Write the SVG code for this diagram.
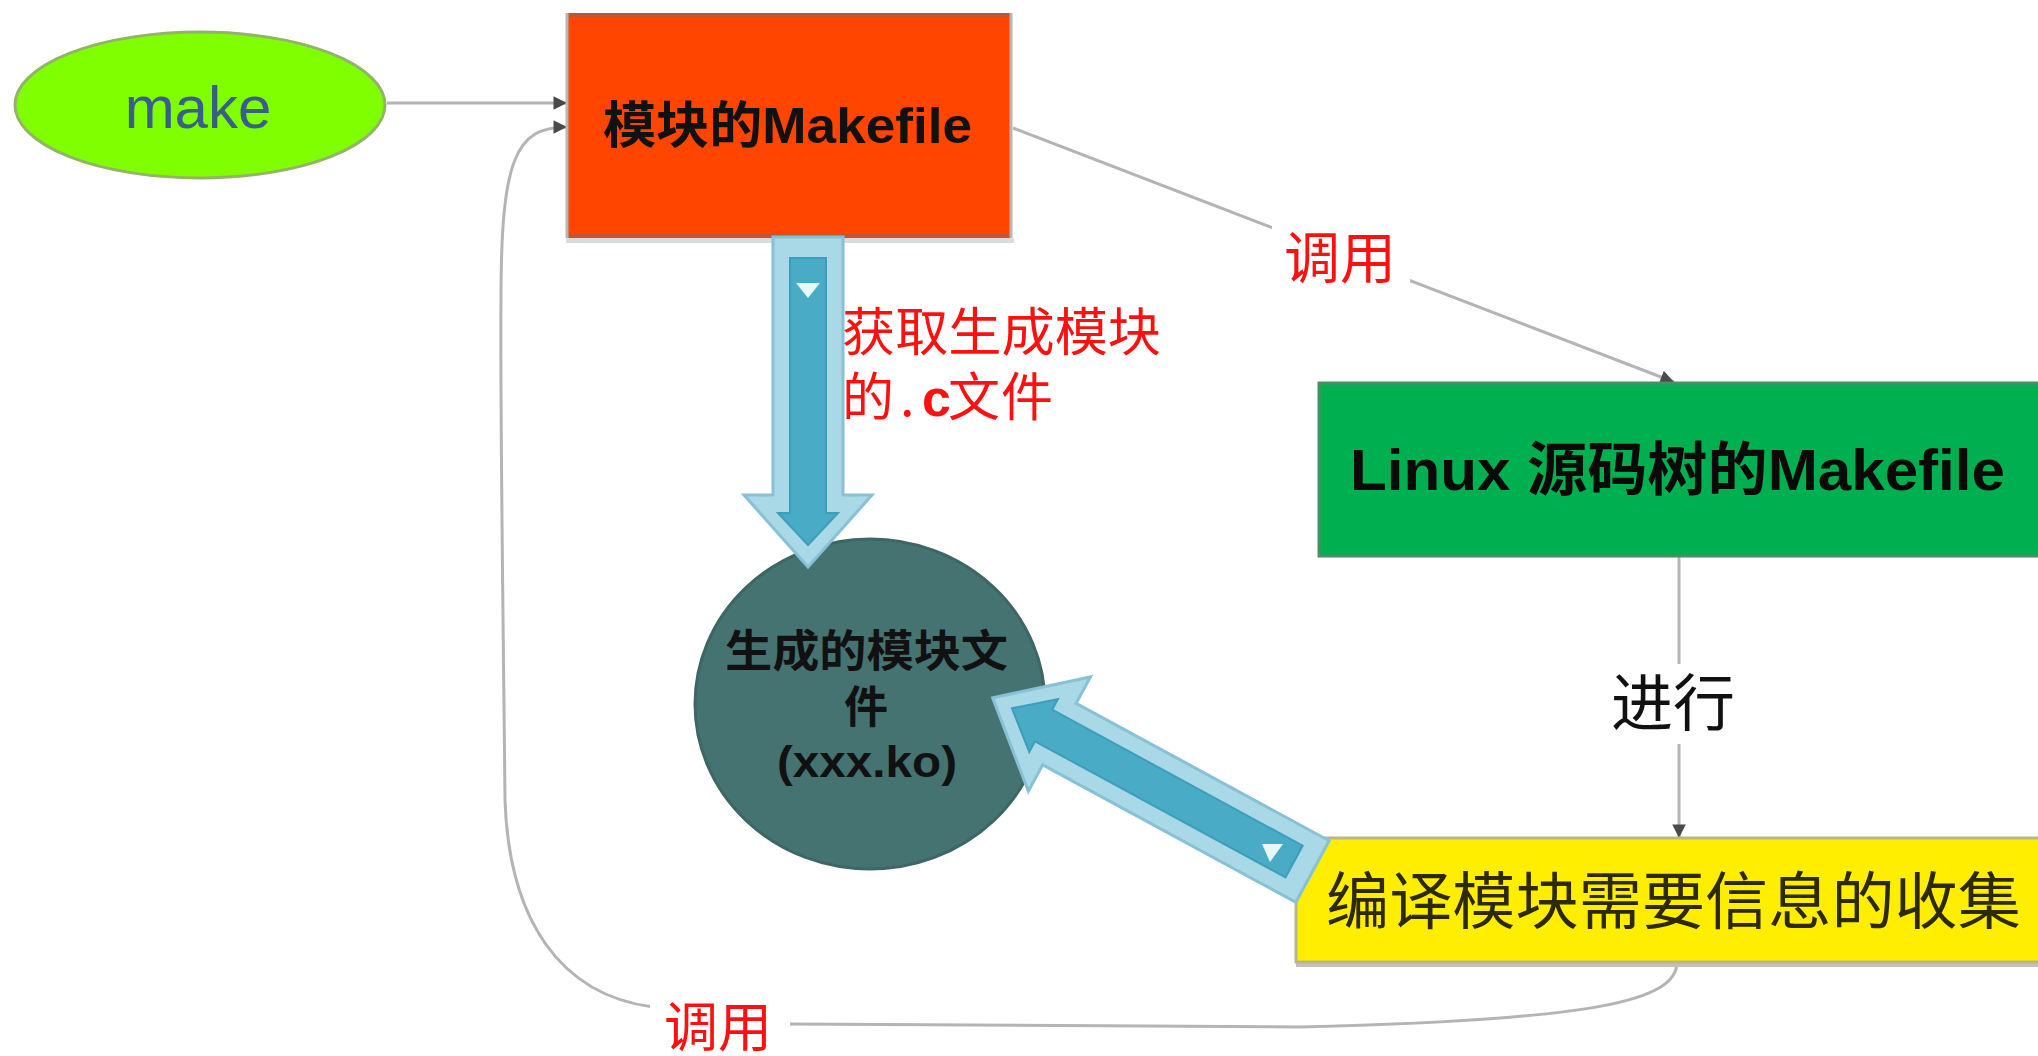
<svg xmlns="http://www.w3.org/2000/svg" width="2038" height="1056" viewBox="0 0 2038 1056">
<style>
.conn{fill:none;stroke:#b4b4b4;stroke-width:3}
.cjk{font-family:'Noto Sans CJK SC',sans-serif}
.lat{font-family:'Liberation Sans','Noto Sans CJK SC',sans-serif}
.red{fill:#ff1010}
.bg{fill:#ffffff}
.outer{fill:#a9d8e7;stroke:#88c1d5;stroke-width:3;stroke-linejoin:miter}
.inner{fill:#4aabc6;stroke:#3d9ebb;stroke-width:2}
.tri{fill:#e9f8f7}
</style>
<defs>
<marker id="ah" viewBox="0 0 10 10" refX="10" refY="5" markerWidth="5" markerHeight="4.5" orient="auto" markerUnits="strokeWidth">
<path d="M0,0 L10,5 L0,10 Z" fill="#4a4a4a"/>
</marker>
</defs>
<rect width="2038" height="1056" fill="#ffffff"/>

<g id="connectors">
<path class="conn" d="M387,103 L567,103" marker-end="url(#ah)"/>
<path class="conn" d="M1013,128 L1674,382" marker-end="url(#ah)"/>
<path class="conn" d="M1679,557 L1679,838" marker-end="url(#ah)"/>
<path class="conn" d="M1677,962 C1677,1000 1600,1020 1300,1027 L790,1024 C720,1023 680,1012 653,1007 C560,995 509,920 505,800 C503,600 500,400 501,300 C501,160 515,127 567,127" marker-end="url(#ah)"/>
<g id="label-call-top">
<rect class="bg" x="1272" y="226" width="138" height="64"/>
<text class="cjk red" x="1340" y="278" font-size="56" text-anchor="middle">调用</text>
</g>
<g id="label-run">
<rect class="bg" x="1602" y="664" width="142" height="80"/>
<text class="cjk" x="1673" y="726" font-size="62" text-anchor="middle" fill="#111">进行</text>
</g>
<g id="label-call-bottom">
<rect class="bg" x="650" y="996" width="140" height="60"/>
<text class="cjk red" x="718" y="1047" font-size="54" text-anchor="middle">调用</text>
</g>
</g>

<g id="node-make">
<ellipse cx="200" cy="105" rx="185" ry="73" fill="#7fff00" stroke="#93b466" stroke-width="3"/>
<text class="lat" x="198" y="128" font-size="60" text-anchor="middle" fill="#3a5e8a">make</text>
</g>

<g id="node-module-makefile">
<rect x="566" y="238" width="448" height="5" fill="#d8dcdc"/>
<rect x="566" y="13" width="446" height="225" fill="#ff4500"/>
<path d="M566,15 H1012 M566,236 H1012" stroke="#c6542c" stroke-width="4"/>
<path d="M567,13 V238 M1011,13 V238" stroke="#b6b6b6" stroke-width="3"/>
<text class="lat" x="603" y="143" font-size="50" font-weight="bold" fill="#111" textLength="369" lengthAdjust="spacingAndGlyphs">模块的Makefile</text>
</g>

<g id="node-linux-makefile">
<rect x="1319" y="383" width="730" height="173" fill="#00b050" stroke="#4a8f64" stroke-width="3"/>
<text class="lat" x="1350" y="490" font-size="58" font-weight="bold" fill="#0a0a0a" textLength="655" lengthAdjust="spacingAndGlyphs">Linux 源码树的Makefile</text>
</g>

<g id="node-collect">
<rect x="1296" y="962" width="760" height="5" fill="#c4c2b6"/>
<rect x="1296" y="838" width="760" height="124" fill="#ffee00" stroke="#bab58c" stroke-width="3"/>
<text class="cjk" x="1326" y="924" font-size="62" fill="#2e2a00" textLength="695" lengthAdjust="spacingAndGlyphs">编译模块需要信息的收集</text>
</g>

<g id="node-ko">
<ellipse cx="870" cy="704" rx="175" ry="165" fill="#457372" stroke="#3d6665" stroke-width="3"/>
<text class="cjk" x="725" y="667" font-size="44" font-weight="bold" fill="#111" textLength="283" lengthAdjust="spacingAndGlyphs">生成的模块文</text>
<text class="cjk" x="866" y="723" font-size="44" font-weight="bold" fill="#111" text-anchor="middle">件</text>
<text class="lat" x="777" y="777" font-size="44" font-weight="bold" fill="#111" textLength="180" lengthAdjust="spacingAndGlyphs">(xxx.ko)</text>
</g>

<g id="fat-arrow-down">
<path class="outer" d="M773,237 H843 V495 H872 L808,567 L744,495 H773 Z"/>
<path class="inner" d="M790,258 H826 V513 H838 L808,545 L778,513 H790 Z"/>
<path class="tri" d="M796,283 L820,283 L808,298 Z"/>
</g>

<g id="fat-arrow-diag" transform="translate(1312.5,871.5) rotate(118.5)">
<path class="outer" d="M-35,0 H35 V288 H65 L0,364 L-65,288 H-35 Z"/>
<path class="inner" d="M-18,21 H18 V306 H30 L0,342 L-30,306 H-18 Z"/>
</g>
<path class="tri" d="M1262,844 L1283,844 L1270,862 Z"/>

<g id="label-get-c">
<text class="cjk red" font-size="52"><tspan x="842" y="351" textLength="319" lengthAdjust="spacingAndGlyphs">获取生成模块</tspan><tspan x="842" y="416">的</tspan><tspan x="900" y="416">.</tspan><tspan x="922" y="416" font-family="'Liberation Sans',sans-serif" font-weight="bold">c</tspan><tspan x="948" y="416">文</tspan><tspan x="1001" y="416">件</tspan></text>
</g>
</svg>
